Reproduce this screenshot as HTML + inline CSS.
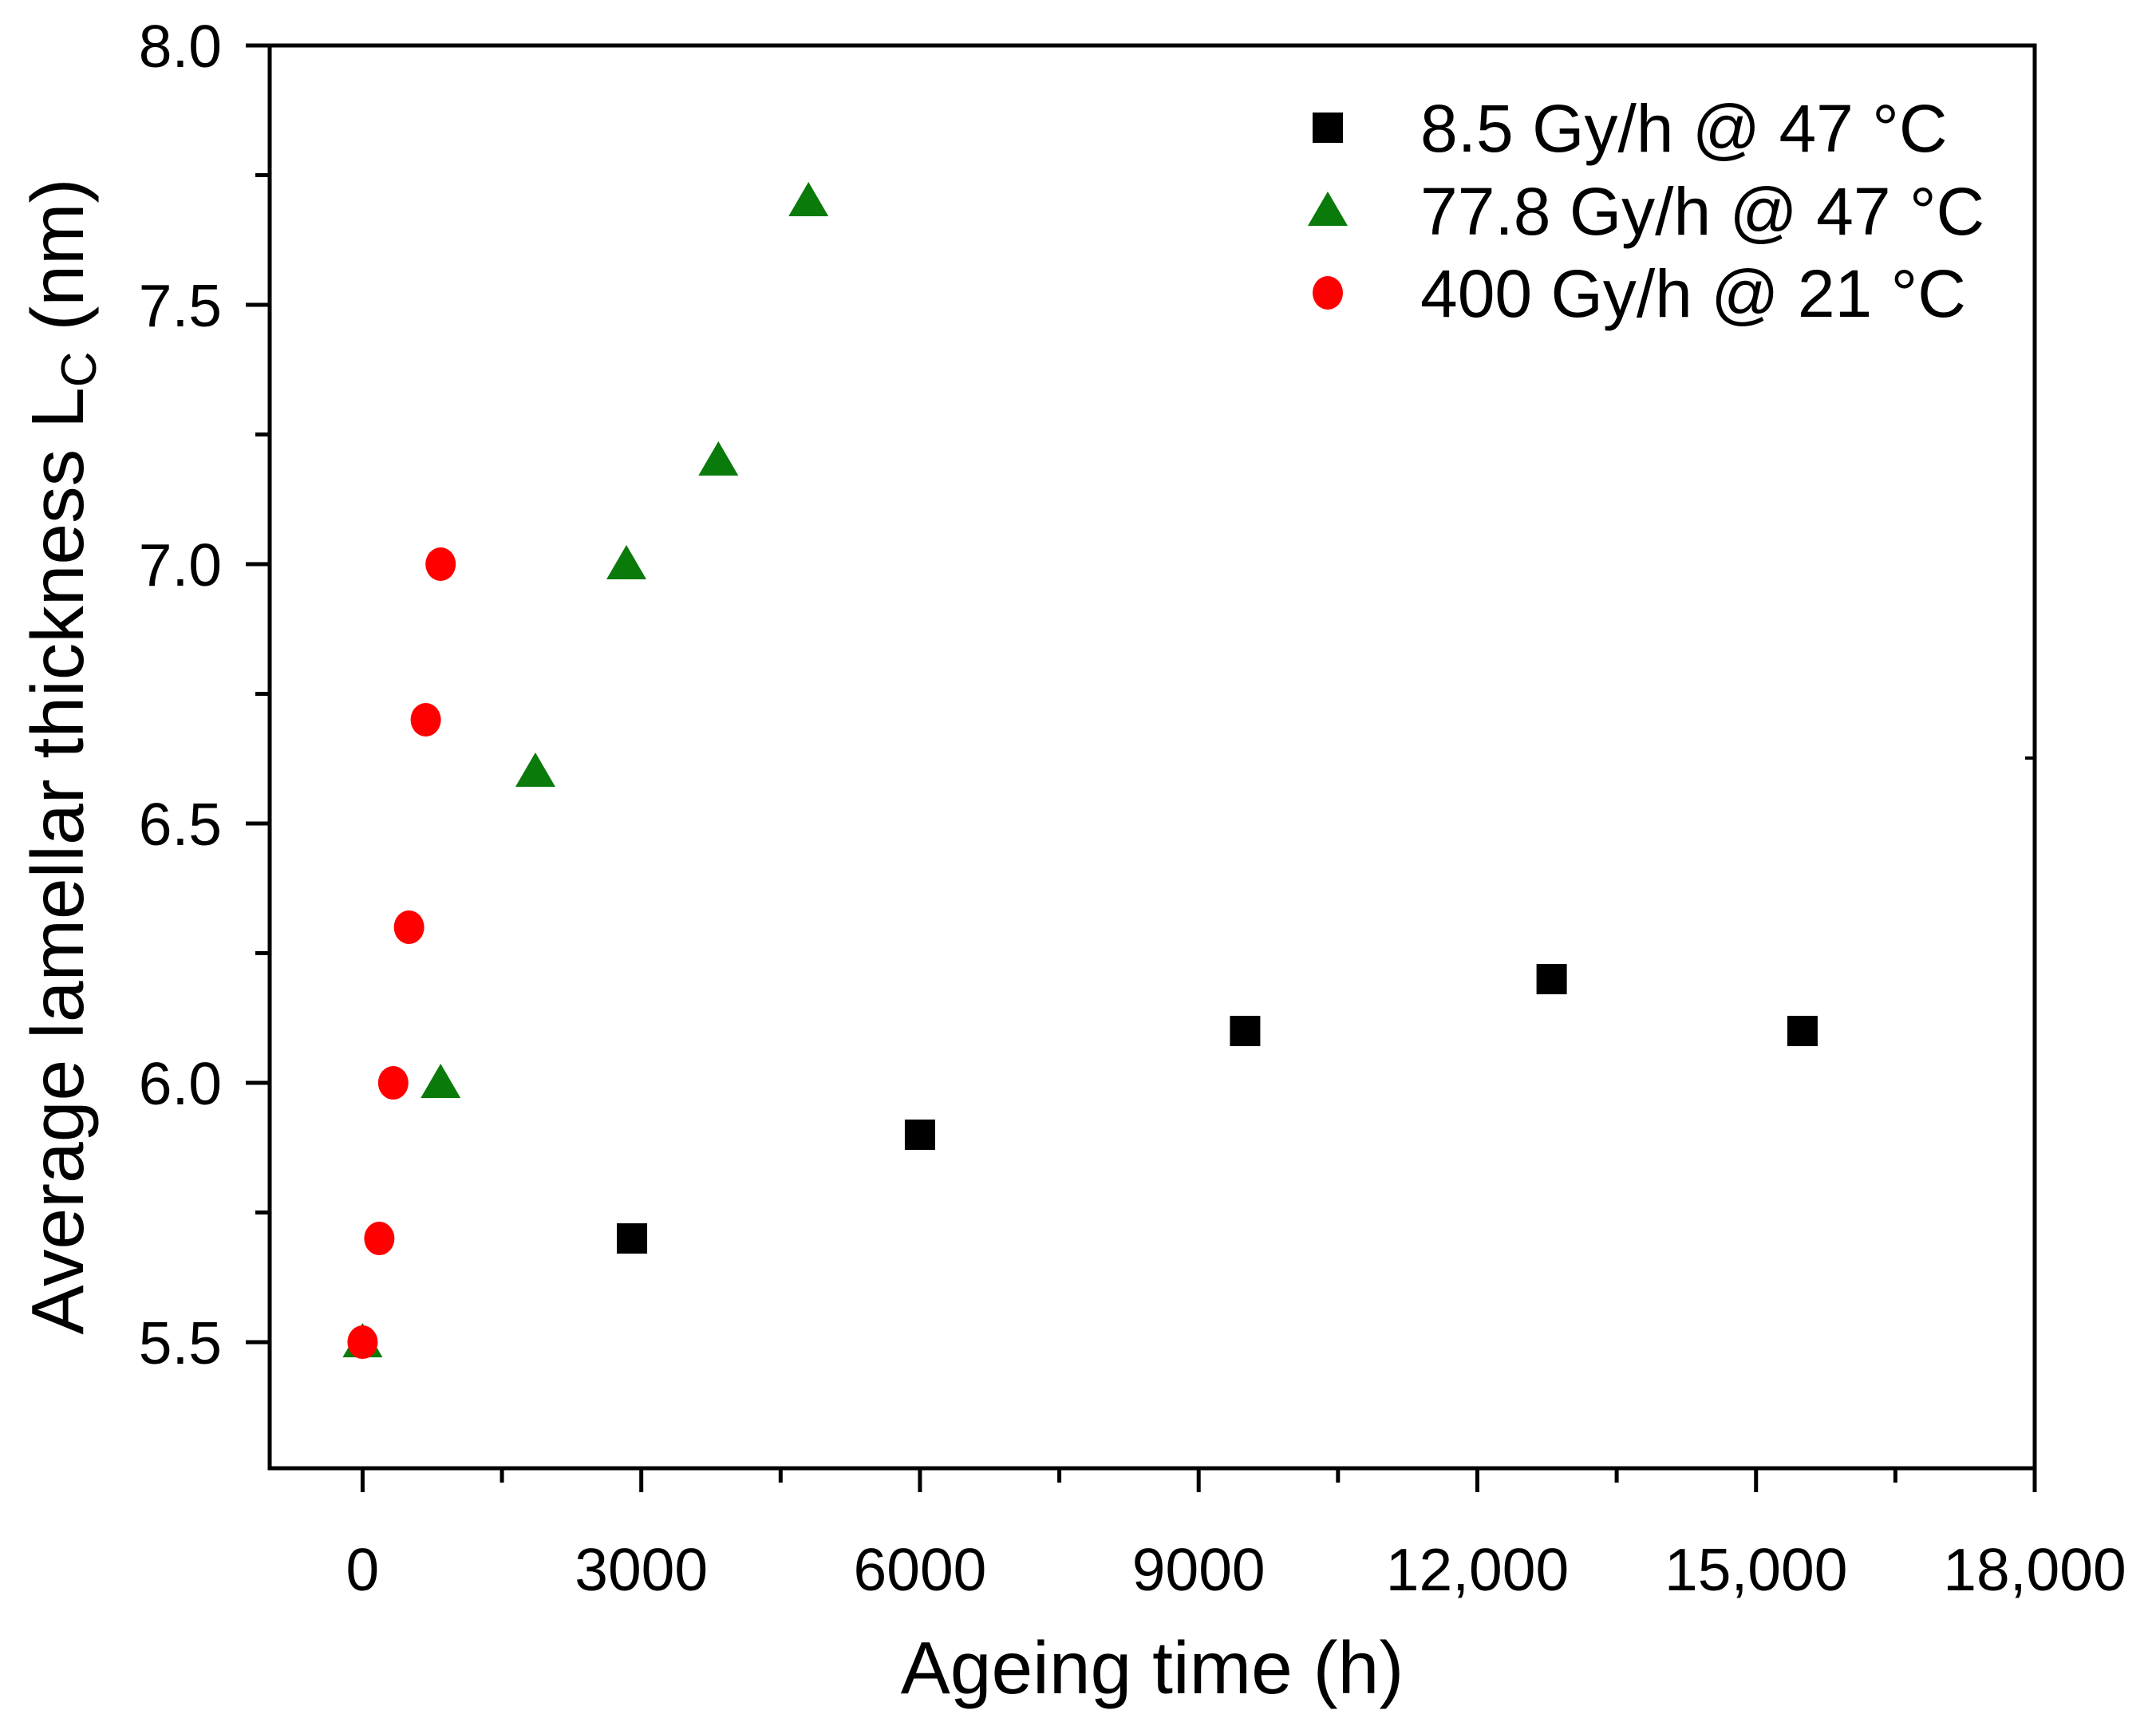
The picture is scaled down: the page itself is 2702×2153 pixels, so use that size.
<!DOCTYPE html>
<html><head><meta charset="utf-8"><style>
html,body{margin:0;padding:0;background:#fff}
svg{display:block;font-family:"Liberation Sans",Arial,sans-serif}
</style></head><body>
<svg id="chart" width="2702" height="2153" viewBox="0 0 2702 2153" xmlns="http://www.w3.org/2000/svg">
<rect x="0" y="0" width="2702" height="2153" fill="#fff"/>
<g id="axes"></g>
<g id="marks"></g>
<g id="legend"></g>
<text x="1444" y="2122" font-size="93" text-anchor="middle">Ageing time (h)</text>
<text transform="translate(104,948) rotate(-90)" font-size="93" text-anchor="middle">Average lamellar thickness L<tspan font-size="62" dy="16">C</tspan><tspan dy="-16"> (nm)</tspan></text>
</svg>
<script>
const xTicks = [0, 3000, 6000, 9000, 12000, 15000, 18000];
const xTickLabels = ["0", "3000", "6000", "9000", "12,000", "15,000", "18,000"];
const yTicks = [5.5, 6.0, 6.5, 7.0, 7.5, 8.0];
const yTickLabels = ["5.5", "6.0", "6.5", "7.0", "7.5", "8.0"];
const blackX = [2900, 6000, 9500, 12800, 15500];
const blackY = [5.7, 5.9, 6.1, 6.2, 6.1];
const greenX = [0, 840, 1860, 2840, 3830, 4800];
const greenY = [5.5, 6.0, 6.6, 7.0, 7.2, 7.7];
const redX = [0, 180, 330, 500, 680, 840];
const redY = [5.5, 5.7, 6.0, 6.3, 6.7, 7.0];
const seriesNames = ["8.5 Gy/h @ 47 °C", "77.8 Gy/h @ 47 °C", "400 Gy/h @ 21 °C"];

const L=338, R=2550, T=57, B=1840;
const X0=-1000, X1=18000, Y0=5.257, Y1=8.0;
function sx(v){return L+(v-X0)/(X1-X0)*(R-L);}
function sy(v){return B-(v-Y0)/(Y1-Y0)*(B-T);}
const NS="http://www.w3.org/2000/svg";
function mk(tag,attrs,parent){const e=document.createElementNS(NS,tag);for(const k in attrs)e.setAttribute(k,attrs[k]);parent.appendChild(e);return e;}
const axes=document.getElementById('axes');
const frame=mk('rect',{x:L,y:T,width:R-L,height:B-T,fill:'none',stroke:'#000','stroke-width':5},axes);


xTicks.forEach((v,i)=>{
  const t=mk('line',{x1:sx(v),x2:sx(v),y1:B,y2:B+30,stroke:'#000','stroke-width':5},axes);
  
  
  const lb=mk('text',{x:sx(v),y:1993,'font-size':75,'text-anchor':'middle'},axes);
  lb.textContent=xTickLabels[i];
  
  
  if(i<xTicks.length-1){
    const m=mk('line',{x1:sx(v+1500),x2:sx(v+1500),y1:B,y2:B+18,stroke:'#000','stroke-width':5},axes);
    
    
  }
});
yTicks.forEach((v,i)=>{
  const t=mk('line',{x1:L-30,x2:L,y1:sy(v),y2:sy(v),stroke:'#000','stroke-width':5},axes);
  
  
  const lb=mk('text',{x:278,y:sy(v)+27,'font-size':75,'text-anchor':'end'},axes);
  lb.textContent=yTickLabels[i];
  
  
  if(i<yTicks.length-1){
    const m=mk('line',{x1:L-18,x2:L,y1:sy(v+0.25),y2:sy(v+0.25),stroke:'#000','stroke-width':5},axes);
    
    
  }
});
const rt=mk('line',{x1:R-12,x2:R,y1:950,y2:950,stroke:'#000','stroke-width':4},axes);



const marks=document.getElementById('marks');
function square(cx,cy,p){return mk('rect',{x:cx-19,y:cy-19,width:38,height:38,fill:'#000'},p);}
function tri(cx,cy,p){return mk('polygon',{points:`${cx},${cy-24} ${cx-25},${cy+19} ${cx+25},${cy+19}`,fill:'#0a7a0a'},p);}
function circ(cx,cy,p){return mk('ellipse',{cx:cx,cy:cy,rx:19,ry:21,fill:'#ff0000'},p);}
blackX.forEach((v,i)=>{const e=square(sx(v),sy(blackY[i]),marks);
  
  });
greenX.forEach((v,i)=>{const e=tri(sx(v),sy(greenY[i]),marks);
  
  });
redX.forEach((v,i)=>{const e=circ(sx(v),sy(redY[i]),marks);
  
  });

const lg=document.getElementById('legend');
const rowsY=[160,264,367];
const drawers=[square,tri,circ];
seriesNames.forEach((n,i)=>{
  const s=drawers[i](1664,rowsY[i],lg);
  
  
  const t=mk('text',{x:1780,y:rowsY[i]+30,'font-size':84},lg);
  t.textContent=n;
  
  
});
</script>
</body></html>
